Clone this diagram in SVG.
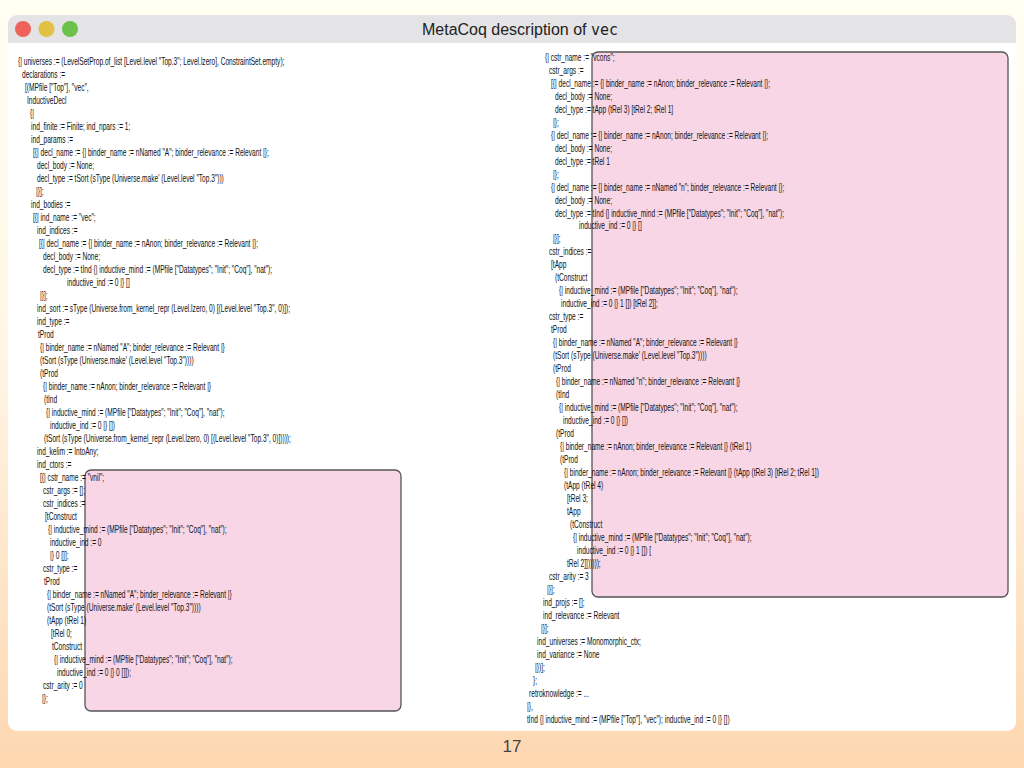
<svg xmlns="http://www.w3.org/2000/svg" width="1024" height="768" viewBox="0 0 1024 768">
<defs>
<linearGradient id="bg" x1="0" y1="0" x2="0" y2="1">
<stop offset="0" stop-color="#fffff2"/>
<stop offset="0.45" stop-color="#fff6e6"/>
<stop offset="1" stop-color="#fdd7b0"/>
</linearGradient>
</defs>
<style>
text.c{font-family:"Liberation Sans",Arial,sans-serif;font-size:11px;fill:#111}
.box{fill:#f9d6e6;stroke:#555;stroke-width:1.3}
</style>
<rect width="1024" height="768" fill="url(#bg)"/>
<g id="window">
<rect x="8" y="15" width="1008" height="716" rx="9" fill="#ffffff"/>
<path d="M8 43 V24 a9 9 0 0 1 9 -9 H1007 a9 9 0 0 1 9 9 V43 Z" fill="#e4e4e6"/>
<circle cx="23" cy="29" r="8" fill="#ee6259"/>
<circle cx="46.5" cy="29" r="8" fill="#e2c043"/>
<circle cx="70" cy="29" r="8" fill="#6cc14a"/>
<text x="520" y="35" text-anchor="middle" font-family="Liberation Sans,Arial,sans-serif" font-size="16" fill="#222">MetaCoq description of <tspan font-family="DejaVu Sans Mono,monospace" font-size="15">vec</tspan></text>
</g>
<g id="box-vnil"><rect class="box" x="85" y="470" width="316" height="241" rx="6"/></g>
<g id="box-vcons"><rect class="box" x="592" y="52" width="416" height="545" rx="6"/></g>
<g id="code" transform="scale(0.6,1)">
<text class="c" x="30" y="65">{| universes := (LevelSetProp.of_list [Level.level "Top.3"; Level.lzero], ConstraintSet.empty);</text>
<text class="c" x="36.7" y="78">declarations :=</text>
<text class="c" x="41.7" y="91">[(MPfile ["Top"], "vec",</text>
<text class="c" x="45" y="104">InductiveDecl</text>
<text class="c" x="50" y="117">{|</text>
<text class="c" x="51.7" y="130">ind_finite := Finite; ind_npars := 1;</text>
<text class="c" x="51.7" y="143">ind_params :=</text>
<text class="c" x="55" y="156">[{| decl_name := {| binder_name := nNamed "A"; binder_relevance := Relevant |};</text>
<text class="c" x="61.7" y="169">decl_body := None;</text>
<text class="c" x="61.7" y="182">decl_type := tSort (sType (Universe.make' (Level.level "Top.3")))</text>
<text class="c" x="60" y="195">|}];</text>
<text class="c" x="51.7" y="208">ind_bodies :=</text>
<text class="c" x="55" y="221">[{| ind_name := "vec";</text>
<text class="c" x="61.7" y="234">ind_indices :=</text>
<text class="c" x="65" y="247">[{| decl_name := {| binder_name := nAnon; binder_relevance := Relevant |};</text>
<text class="c" x="71.7" y="260">decl_body := None;</text>
<text class="c" x="71.7" y="273">decl_type := tInd {| inductive_mind := (MPfile ["Datatypes"; "Init"; "Coq"], "nat");</text>
<text class="c" x="111.7" y="286">inductive_ind := 0 |} []</text>
<text class="c" x="66.7" y="299">|}];</text>
<text class="c" x="61.7" y="312">ind_sort := sType (Universe.from_kernel_repr (Level.lzero, 0) [(Level.level "Top.3", 0)]);</text>
<text class="c" x="61.7" y="325">ind_type :=</text>
<text class="c" x="63.3" y="338">tProd</text>
<text class="c" x="66.7" y="351">{| binder_name := nNamed "A"; binder_relevance := Relevant |}</text>
<text class="c" x="66.7" y="364">(tSort (sType (Universe.make' (Level.level "Top.3"))))</text>
<text class="c" x="66.7" y="377">(tProd</text>
<text class="c" x="71.7" y="390">{| binder_name := nAnon; binder_relevance := Relevant |}</text>
<text class="c" x="73.3" y="403">(tInd</text>
<text class="c" x="76.7" y="416">{| inductive_mind := (MPfile ["Datatypes"; "Init"; "Coq"], "nat");</text>
<text class="c" x="83.3" y="429">inductive_ind := 0 |} [])</text>
<text class="c" x="73.3" y="442">(tSort (sType (Universe.from_kernel_repr (Level.lzero, 0) [(Level.level "Top.3", 0)]))));</text>
<text class="c" x="61.7" y="455">ind_kelim := IntoAny;</text>
<text class="c" x="61.7" y="468">ind_ctors :=</text>
<text class="c" x="66.7" y="481">[{| cstr_name := "vnil";</text>
<text class="c" x="71.7" y="494">cstr_args := [];</text>
<text class="c" x="71.7" y="507">cstr_indices :=</text>
<text class="c" x="75" y="520">[tConstruct</text>
<text class="c" x="80" y="533">{| inductive_mind := (MPfile ["Datatypes"; "Init"; "Coq"], "nat");</text>
<text class="c" x="83.3" y="546">inductive_ind := 0</text>
<text class="c" x="83.3" y="559">|} 0 []];</text>
<text class="c" x="71.7" y="572">cstr_type :=</text>
<text class="c" x="73.3" y="585">tProd</text>
<text class="c" x="78.3" y="598">{| binder_name := nNamed "A"; binder_relevance := Relevant |}</text>
<text class="c" x="78.3" y="611">(tSort (sType (Universe.make' (Level.level "Top.3"))))</text>
<text class="c" x="78.3" y="624">(tApp (tRel 1)</text>
<text class="c" x="85" y="637">[tRel 0;</text>
<text class="c" x="86.7" y="650">tConstruct</text>
<text class="c" x="90" y="663">{| inductive_mind := (MPfile ["Datatypes"; "Init"; "Coq"], "nat");</text>
<text class="c" x="95" y="676">inductive_ind := 0 |} 0 []]);</text>
<text class="c" x="71.7" y="689">cstr_arity := 0</text>
<text class="c" x="70" y="702">|};</text>

<text class="c" x="908.3" y="61">{| cstr_name := "vcons";</text>
<text class="c" x="915" y="74">cstr_args :=</text>
<text class="c" x="918.3" y="87">[{| decl_name := {| binder_name := nAnon; binder_relevance := Relevant |};</text>
<text class="c" x="925" y="100">decl_body := None;</text>
<text class="c" x="925" y="113">decl_type := tApp (tRel 3) [tRel 2; tRel 1]</text>
<text class="c" x="921.7" y="126">|};</text>
<text class="c" x="918.3" y="139">{| decl_name := {| binder_name := nAnon; binder_relevance := Relevant |};</text>
<text class="c" x="925" y="152">decl_body := None;</text>
<text class="c" x="925" y="165">decl_type := tRel 1</text>
<text class="c" x="921.7" y="178">|};</text>
<text class="c" x="918.3" y="191">{| decl_name := {| binder_name := nNamed "n"; binder_relevance := Relevant |};</text>
<text class="c" x="925" y="204">decl_body := None;</text>
<text class="c" x="925" y="217">decl_type := tInd {| inductive_mind := (MPfile ["Datatypes"; "Init"; "Coq"], "nat");</text>
<text class="c" x="965" y="229">inductive_ind := 0 |} []</text>
<text class="c" x="921.7" y="242">|}];</text>
<text class="c" x="915" y="255">cstr_indices :=</text>
<text class="c" x="918.3" y="268">[tApp</text>
<text class="c" x="925" y="281">(tConstruct</text>
<text class="c" x="931.7" y="294">{| inductive_mind := (MPfile ["Datatypes"; "Init"; "Coq"], "nat");</text>
<text class="c" x="935" y="307">inductive_ind := 0 |} 1 []) [tRel 2]];</text>
<text class="c" x="915" y="320">cstr_type :=</text>
<text class="c" x="918.3" y="333">tProd</text>
<text class="c" x="921.7" y="346">{| binder_name := nNamed "A"; binder_relevance := Relevant |}</text>
<text class="c" x="921.7" y="359">(tSort (sType (Universe.make' (Level.level "Top.3"))))</text>
<text class="c" x="921.7" y="372">(tProd</text>
<text class="c" x="926.7" y="385">{| binder_name := nNamed "n"; binder_relevance := Relevant |}</text>
<text class="c" x="926.7" y="398">(tInd</text>
<text class="c" x="931.7" y="411">{| inductive_mind := (MPfile ["Datatypes"; "Init"; "Coq"], "nat");</text>
<text class="c" x="938.3" y="424">inductive_ind := 0 |} [])</text>
<text class="c" x="926.7" y="437">(tProd</text>
<text class="c" x="933.3" y="450">{| binder_name := nAnon; binder_relevance := Relevant |} (tRel 1)</text>
<text class="c" x="933.3" y="463">(tProd</text>
<text class="c" x="940" y="476">{| binder_name := nAnon; binder_relevance := Relevant |} (tApp (tRel 3) [tRel 2; tRel 1])</text>
<text class="c" x="940" y="489">(tApp (tRel 4)</text>
<text class="c" x="945" y="502">[tRel 3;</text>
<text class="c" x="945" y="515">tApp</text>
<text class="c" x="950" y="528">(tConstruct</text>
<text class="c" x="955" y="541">{| inductive_mind := (MPfile ["Datatypes"; "Init"; "Coq"], "nat");</text>
<text class="c" x="961.7" y="554">inductive_ind := 0 |} 1 []) [</text>
<text class="c" x="945" y="567">tRel 2]])))));</text>
<text class="c" x="915" y="580">cstr_arity := 3</text>
<text class="c" x="911.7" y="593">|}];</text>
<text class="c" x="905" y="606">ind_projs := [];</text>
<text class="c" x="905" y="619">ind_relevance := Relevant</text>
<text class="c" x="901.7" y="632">|}];</text>
<text class="c" x="895" y="645">ind_universes := Monomorphic_ctx;</text>
<text class="c" x="895" y="658">ind_variance := None</text>
<text class="c" x="891.7" y="671">|})];</text>
<text class="c" x="888.3" y="684">};</text>
<text class="c" x="881.7" y="697">retroknowledge := ...</text>
<text class="c" x="878.3" y="710">|},</text>
<text class="c" x="878.3" y="723">tInd {| inductive_mind := (MPfile ["Top"], "vec"); inductive_ind := 0 |} [])</text>
</g>
<text x="512" y="752" text-anchor="middle" font-family="Liberation Sans,Arial,sans-serif" font-size="17" fill="#444">17</text>
</svg>
